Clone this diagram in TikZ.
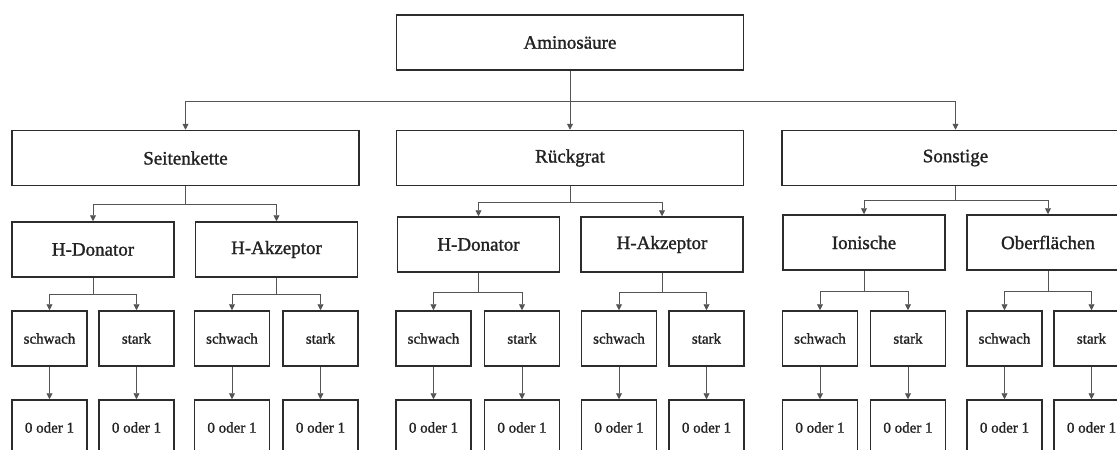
\documentclass[tikz,border=0pt]{standalone}
\usepackage{fontspec}
\setmainfont{Liberation Serif}
\newfontfamily\heavyserif[FakeBold=1.3]{Liberation Serif}
\usetikzlibrary{arrows.meta}
\definecolor{boxline}{HTML}{2C2C2C}
\definecolor{connline}{HTML}{555555}
\definecolor{textcol}{HTML}{222222}
\begin{document}
\begin{tikzpicture}[x=1pt,y=-1pt,
  bigbox/.style={draw=boxline, line width=1.5pt, minimum height=55pt, inner sep=0pt, text=textcol, font=\heavyserif\fontsize{19}{22}\selectfont},
  w1/.style={bigbox, minimum width=347pt},
  w2/.style={bigbox, minimum width=162pt},
  smallbox/.style={draw=boxline, line width=1.5pt, minimum height=55pt, minimum width=75pt, inner sep=0pt, text=textcol, font=\heavyserif\fontsize{15}{18}\selectfont},
  conn/.style={draw=connline, line width=0.9pt},
  arr/.style={conn, -{Triangle[length=6pt,width=6pt]}}]
\useasboundingbox (0,0) rectangle (1117,450);
\clip (0,0) rectangle (1117,450);
\fill[white] (0,0) rectangle (1117,450);

% top
\node[w1] (amino) at (570,42.5) {Aminosäure};
% level 1
\node[w1] (seite) at (185.5,158) {Seitenkette};
\node[w1] (rueck) at (570,158) {Rückgrat};
\node[w1] (sonst) at (955.5,158) {Sonstige};
\coordinate (j0) at (570,101);
\draw[conn] (amino) -- (j0);
\draw[arr] (j0) -- (rueck);
\draw[arr] (j0) -| (seite);
\draw[arr] (j0) -| (sonst);

% level 2
\node[w2] (sd) at (93,249.5) {H-Donator};
\node[w2] (sa) at (276.5,249.5) {H-Akzeptor};
\node[w2] (rd) at (478.5,244.5) {H-Donator};
\node[w2] (ra) at (662,244.5) {H-Akzeptor};
\node[w2] (oi) at (864,242.5) {Ionische};
\node[w2] (oo) at (1048,242.5) {Oberflächen};
\coordinate (bs) at (185.5,204);
\coordinate (br) at (570,202);
\coordinate (bo) at (955.5,200);
\draw[conn] (seite) -- (bs);
\draw[arr] (bs) -| (sd);
\draw[arr] (bs) -| (sa);
\draw[conn] (rueck) -- (br);
\draw[arr] (br) -| (rd);
\draw[arr] (br) -| (ra);
\draw[conn] (sonst) -- (bo);
\draw[arr] (bo) -| (oi);
\draw[arr] (bo) -| (oo);

% level 3 and 4
\foreach \p/\bx/\by/\xa/\xb in {sd/93/294/49.5/136.5, sa/276.5/294/232/320.5, rd/478.5/292/433.5/522, ra/662/292/619/706.5, oi/864/291/820/908, oo/1048/291/1004.5/1091.5}{
  \node[smallbox] (\p w) at (\xa,338.5) {schwach};
  \node[smallbox] (\p s) at (\xb,338.5) {stark};
  \node[smallbox] (\p wv) at (\xa,427.5) {0 oder 1};
  \node[smallbox] (\p sv) at (\xb,427.5) {0 oder 1};
  \coordinate (\p b) at (\bx,\by);
  \draw[conn] (\p) -- (\p b);
  \draw[arr] (\p b) -| (\p w);
  \draw[arr] (\p b) -| (\p s);
  \draw[arr] (\p w) -- (\p wv);
  \draw[arr] (\p s) -- (\p sv);
}
\end{tikzpicture}
\end{document}
